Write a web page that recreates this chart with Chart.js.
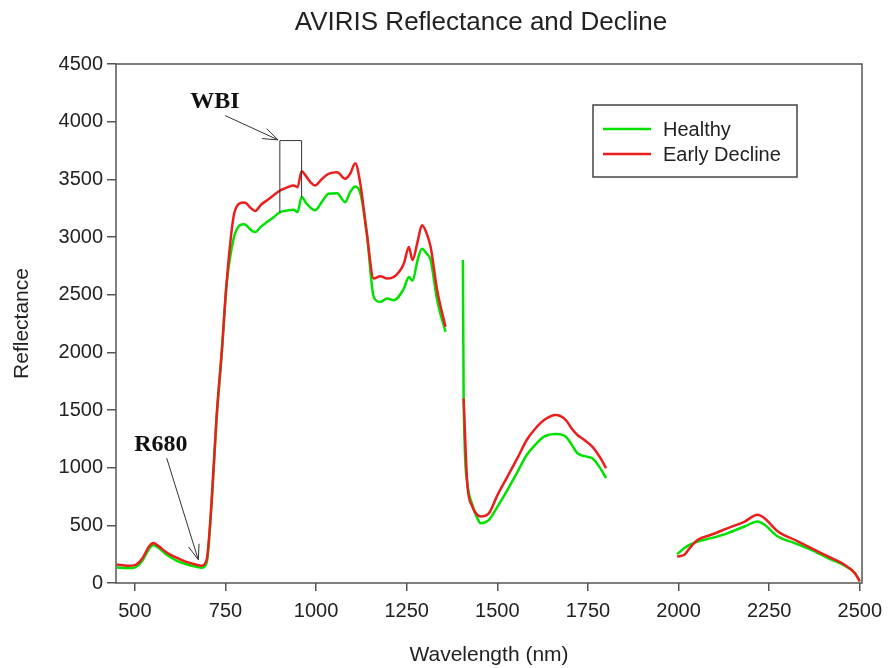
<!DOCTYPE html>
<html>
<head>
<meta charset="utf-8">
<script src="https://cdn.jsdelivr.net/npm/chart.js@4.4.0/dist/chart.umd.min.js"></script>
<style>
  html, body { margin: 0; padding: 0; background: #fff; }
</style>
</head>
<body>
<canvas id="spectra" width="894" height="668"></canvas>
<script>
// spectra; null rows break the line at the water bands
const wavelengths = [
  450, 480, 500, 520, 540, 551, 565, 590, 615, 640, 670, 684, 698, 712, 725, 740, 753,
  772, 786, 800, 808, 820, 832, 848, 864, 882, 901, 920, 938, 949, 960, 974, 986, 997,
  1015, 1034, 1058, 1080, 1094, 1108, 1122, 1140, 1159, 1177, 1196, 1214, 1242, 1256,
  1266, 1280, 1292, 1304, 1316, 1334, 1357,
  1380,
  1405, 1407, 1417, 1431, 1445, 1454, 1477, 1500, 1528, 1555, 1581, 1605, 1629, 1661,
  1689, 1705, 1721, 1740, 1762, 1785, 1800,
  1900,
  1996, 2016, 2030, 2053, 2090, 2136, 2182, 2218, 2237, 2274, 2320, 2366, 2412, 2458,
  2486, 2500
];
const healthy = [
  135, 130, 135, 190, 300, 330, 305, 240, 195, 165, 140, 132, 175, 700, 1400, 2000, 2580,
  2980, 3090, 3110, 3100, 3060, 3043, 3090, 3129, 3170, 3216, 3230, 3236, 3216, 3346, 3288, 3250, 3231,
  3300, 3375, 3380, 3302, 3389, 3438, 3380, 3029, 2480, 2437, 2466, 2452, 2553, 2653,
  2620, 2800, 2899, 2860, 2798, 2452, 2178,
  null,
  2800, 1620, 870, 680, 560, 519, 548, 660, 808, 960, 1110, 1200, 1269, 1292,
  1269, 1200, 1125, 1100, 1082, 990, 909,
  null,
  250, 303, 330, 360, 389, 433, 490, 533, 505, 403, 346, 288, 216, 150,
  87, 14
];
const earlyDecline = [
  160, 150, 155, 210, 320, 346, 320, 260, 219, 185, 158, 150, 200, 720, 1420, 2020, 2600,
  3170, 3285, 3300, 3290, 3250, 3225, 3280, 3317, 3360, 3404, 3430, 3447, 3432, 3571, 3519, 3470, 3447,
  3500, 3548, 3562, 3505, 3548, 3640, 3462, 3029, 2640, 2659, 2640, 2653, 2769, 2913,
  2800, 2960, 3101, 3040, 2913, 2538, 2221,
  null,
  null, 1600, 865, 663, 590, 577, 606, 760, 923, 1080, 1240, 1340, 1413, 1456,
  1413, 1340, 1283, 1240, 1182, 1080, 995,
  null,
  230, 245, 300, 375, 418, 476, 533, 591, 562, 447, 375, 303, 230, 158,
  87, 14
];
const xTicks = [500, 750, 1000, 1250, 1500, 1750, 2000, 2250, 2500];
const yTicks = [0, 500, 1000, 1500, 2000, 2500, 3000, 3500, 4000, 4500];

const GREEN = 'rgb(0, 225, 0)';
const RED = 'rgb(235, 30, 30)';
const SANS = '"Liberation Sans", Arial, sans-serif';
const SERIF = '"Liberation Serif", "Times New Roman", serif';

function toPoints(values) {
  return values.map((v, i) => ({ x: wavelengths[i], y: v }));
}

// title, frame, callouts and legend box
const decorations = {
  id: 'decorations',
  afterDatasetsDraw(chart) {
    const { ctx, chartArea: a, scales: { x, y } } = chart;
    const px = (wl) => x.getPixelForValue(wl);
    const py = (r) => y.getPixelForValue(r);

    ctx.save();
    ctx.fillStyle = '#222';
    ctx.font = '26px ' + SANS;
    ctx.textAlign = 'center';
    ctx.textBaseline = 'middle';
    ctx.fillText('AVIRIS Reflectance and Decline', a.left + 365, 23);

    // full frame
    ctx.strokeStyle = '#555';
    ctx.lineWidth = 1.5;
    ctx.strokeRect(a.left, a.top, a.right - a.left, a.bottom - a.top);

    // WBI window
    ctx.strokeStyle = '#333';
    ctx.lineWidth = 1;
    ctx.beginPath();
    ctx.moveTo(px(900), py(3216));
    ctx.lineTo(px(900), py(3836));
    ctx.lineTo(px(960), py(3836));
    ctx.lineTo(px(960), py(3346));
    ctx.stroke();

    function arrow(x0, y0, x1, y1) {
      ctx.beginPath();
      ctx.moveTo(x0, y0);
      ctx.lineTo(x1, y1);
      const ang = Math.atan2(y1 - y0, x1 - x0);
      for (const d of [-0.35, 0.35]) {
        ctx.moveTo(x1, y1);
        ctx.lineTo(x1 - 16 * Math.cos(ang + d), y1 - 16 * Math.sin(ang + d));
      }
      ctx.stroke();
    }
    arrow(px(749), py(4053), px(895), py(3842));
    arrow(px(588), py(1082), px(675), py(202));

    ctx.fillStyle = '#111';
    ctx.font = 'bold 24px ' + SERIF;
    ctx.fillText('WBI', px(721), py(4168));
    ctx.fillText('R680', px(572), py(1197));

    // legend
    const lx = a.right - 269, ly = a.top + 41;
    ctx.strokeStyle = '#444';
    ctx.lineWidth = 1.5;
    ctx.strokeRect(lx, ly, 204, 72);
    ctx.font = '20px ' + SANS;
    ctx.textAlign = 'left';
    const rows = [['Healthy', GREEN, 24], ['Early Decline', RED, 49]];
    for (const [label, color, dy] of rows) {
      ctx.strokeStyle = color;
      ctx.lineWidth = 2.5;
      ctx.beginPath();
      ctx.moveTo(lx + 10, ly + dy);
      ctx.lineTo(lx + 58, ly + dy);
      ctx.stroke();
      ctx.fillStyle = '#222';
      ctx.fillText(label, lx + 70, ly + dy + 1);
    }
    ctx.restore();
  }
};

const ctx = document.getElementById('spectra').getContext('2d');

new Chart(ctx, {
  type: 'line',
  data: {
    datasets: [
      {
        label: 'Healthy',
        data: toPoints(healthy),
        borderColor: GREEN,
        borderWidth: 2.5,
        pointRadius: 0,
        cubicInterpolationMode: 'monotone',
        spanGaps: false,
        order: 2
      },
      {
        label: 'Early Decline',
        data: toPoints(earlyDecline),
        borderColor: RED,
        borderWidth: 2.5,
        pointRadius: 0,
        cubicInterpolationMode: 'monotone',
        spanGaps: false,
        order: 1
      }
    ]
  },
  options: {
    responsive: false,
    animation: false,
    devicePixelRatio: 1,
    layout: { padding: { left: 0, right: 32, top: 64, bottom: 0 } },
    plugins: {
      legend: { display: false },
      tooltip: { enabled: false },
      title: { display: false }
    },
    scales: {
      x: {
        type: 'linear',
        min: 448,
        max: 2506,
        afterBuildTicks: (s) => { s.ticks = xTicks.map(v => ({ value: v })); },
        afterFit: (s) => { s.height = 85; },
        grid: { drawOnChartArea: false, tickLength: 8, color: '#555', lineWidth: 1.5 },
        border: { display: false },
        ticks: {
          color: '#222',
          font: { family: SANS, size: 20 },
          padding: 8,
          maxRotation: 0,
          callback: (v) => String(v)
        },
        title: {
          display: true,
          text: 'Wavelength (nm)',
          color: '#222',
          font: { family: SANS, size: 21 },
          padding: { top: 0, bottom: 0 }
        }
      },
      y: {
        min: 0,
        max: 4500,
        afterBuildTicks: (s) => { s.ticks = yTicks.map(v => ({ value: v })); },
        afterFit: (s) => { s.width = 116; },
        grid: { drawOnChartArea: false, tickLength: 9, color: '#555', lineWidth: 1.5 },
        border: { display: false },
        ticks: {
          color: '#222',
          font: { family: SANS, size: 20 },
          padding: 4,
          callback: (v) => String(v)
        },
        title: {
          display: true,
          text: 'Reflectance',
          color: '#222',
          font: { family: SANS, size: 21 },
          padding: { top: 10, bottom: 0 }
        }
      }
    }
  },
  plugins: [decorations]
});
</script>
</body>
</html>
